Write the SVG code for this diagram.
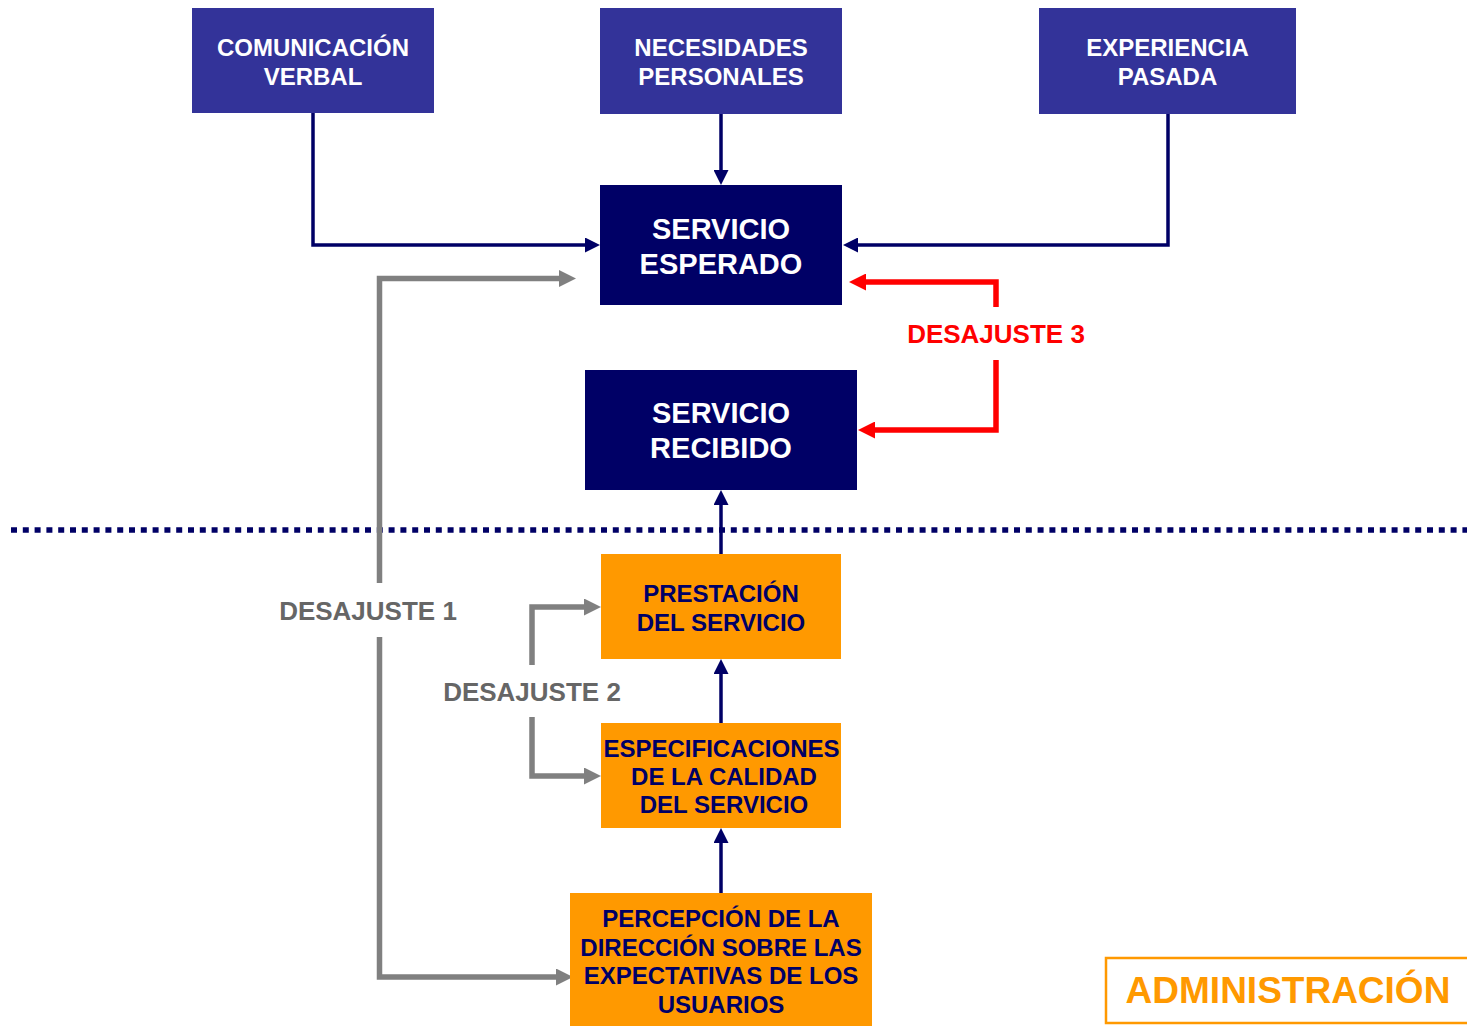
<svg xmlns="http://www.w3.org/2000/svg" width="1467" height="1026" viewBox="0 0 1467 1026">
<style>
text{font-family:"Liberation Sans",Arial,sans-serif;font-weight:bold;text-anchor:middle}
.top{fill:#333399}
.dark{fill:#000066}
.org{fill:#FF9900}
.wt{fill:#FFFFFF}
.nt{fill:#000066}
.f24{font-size:24px}
.f29{font-size:29px}
.gl{fill:none;stroke:#808080;stroke-width:5.5}
.nl{fill:none;stroke:#000066;stroke-width:3.5}
.rl{fill:none;stroke:#FF0000;stroke-width:5.5}
.gtx{fill:#666666;font-size:26px}
</style>
<defs>
<marker id="an" markerUnits="userSpaceOnUse" markerWidth="15" markerHeight="15" viewBox="0 0 15 15" refX="0" refY="7.5" orient="auto"><path d="M0,0 L15,7.5 L0,15 z" fill="#000066"/></marker>
<marker id="ag" markerUnits="userSpaceOnUse" markerWidth="17" markerHeight="17" viewBox="0 0 17 17" refX="0" refY="8.5" orient="auto"><path d="M0,0 L17,8.5 L0,17 z" fill="#808080"/></marker>
<marker id="ar" markerUnits="userSpaceOnUse" markerWidth="17" markerHeight="17" viewBox="0 0 17 17" refX="0" refY="8.5" orient="auto"><path d="M0,0 L17,8.5 L0,17 z" fill="#FF0000"/></marker>
</defs>
<rect width="1467" height="1026" fill="#FFFFFF"/>

<line x1="11" y1="530" x2="1467" y2="530" stroke="#000066" stroke-width="5.5" stroke-dasharray="6 5.8"/>

<g id="connectors">
<path class="nl" d="M313,113 V245 H585" marker-end="url(#an)"/>
<path class="nl" d="M721,114 V170" marker-end="url(#an)"/>
<path class="nl" d="M1168,114 V245 H858" marker-end="url(#an)"/>
<path class="nl" d="M721,554 V505" marker-end="url(#an)"/>
<path class="nl" d="M721,723 V674" marker-end="url(#an)"/>
<path class="nl" d="M721,893 V843" marker-end="url(#an)"/>
<path class="rl" d="M996,307 V282 H866" marker-end="url(#ar)"/>
<path class="rl" d="M996,360 V430 H875" marker-end="url(#ar)"/>
<path class="gl" d="M379.5,583 V278.5 H559" marker-end="url(#ag)"/>
<path class="gl" d="M379.5,637 V977 H556" marker-end="url(#ag)"/>
<path class="gl" d="M532,665 V607 H584" marker-end="url(#ag)"/>
<path class="gl" d="M532,717 V776 H584" marker-end="url(#ag)"/>
<text class="gtx" x="368" y="620">DESAJUSTE 1</text>
<text class="gtx" x="532" y="701">DESAJUSTE 2</text>
<text x="996" y="343" fill="#FF0000" font-size="26">DESAJUSTE 3</text>
</g>

<g id="comunicacion">
<rect class="top" x="192" y="8" width="242" height="105"/>
<text class="wt f24" x="313" y="56">COMUNICACIÓN</text>
<text class="wt f24" x="313" y="85">VERBAL</text>
</g>
<g id="necesidades">
<rect class="top" x="600" y="8" width="242" height="106"/>
<text class="wt f24" x="721" y="56">NECESIDADES</text>
<text class="wt f24" x="721" y="85">PERSONALES</text>
</g>
<g id="experiencia">
<rect class="top" x="1039" y="8" width="257" height="106"/>
<text class="wt f24" x="1167.5" y="56">EXPERIENCIA</text>
<text class="wt f24" x="1167.5" y="85">PASADA</text>
</g>
<g id="esperado">
<rect class="dark" x="600" y="185" width="242" height="120"/>
<text class="wt f29" x="721" y="239">SERVICIO</text>
<text class="wt f29" x="721" y="274">ESPERADO</text>
</g>
<g id="recibido">
<rect class="dark" x="585" y="370" width="272" height="120"/>
<text class="wt f29" x="721" y="423">SERVICIO</text>
<text class="wt f29" x="721" y="458">RECIBIDO</text>
</g>
<g id="prestacion">
<rect class="org" x="601" y="554" width="240" height="105"/>
<text class="nt f24" x="721" y="602">PRESTACIÓN</text>
<text class="nt f24" x="721" y="631">DEL SERVICIO</text>
</g>
<g id="especificaciones">
<rect class="org" x="601" y="723" width="240" height="105"/>
<text class="nt f24" x="721.5" y="757">ESPECIFICACIONES</text>
<text class="nt f24" x="724" y="785">DE LA CALIDAD</text>
<text class="nt f24" x="724" y="813">DEL SERVICIO</text>
</g>
<g id="percepcion">
<rect class="org" x="570" y="893" width="302" height="133"/>
<text class="nt f24" x="721" y="927">PERCEPCIÓN DE LA</text>
<text class="nt f24" x="721" y="956">DIRECCIÓN SOBRE LAS</text>
<text class="nt f24" x="721" y="984">EXPECTATIVAS DE LOS</text>
<text class="nt f24" x="721" y="1013">USUARIOS</text>
</g>
<g id="administracion">
<rect x="1106" y="958" width="370" height="65" fill="none" stroke="#FF9900" stroke-width="2.5"/>
<text x="1288" y="1003" fill="#FF9900" font-size="37">ADMINISTRACIÓN</text>
</g>
</svg>
